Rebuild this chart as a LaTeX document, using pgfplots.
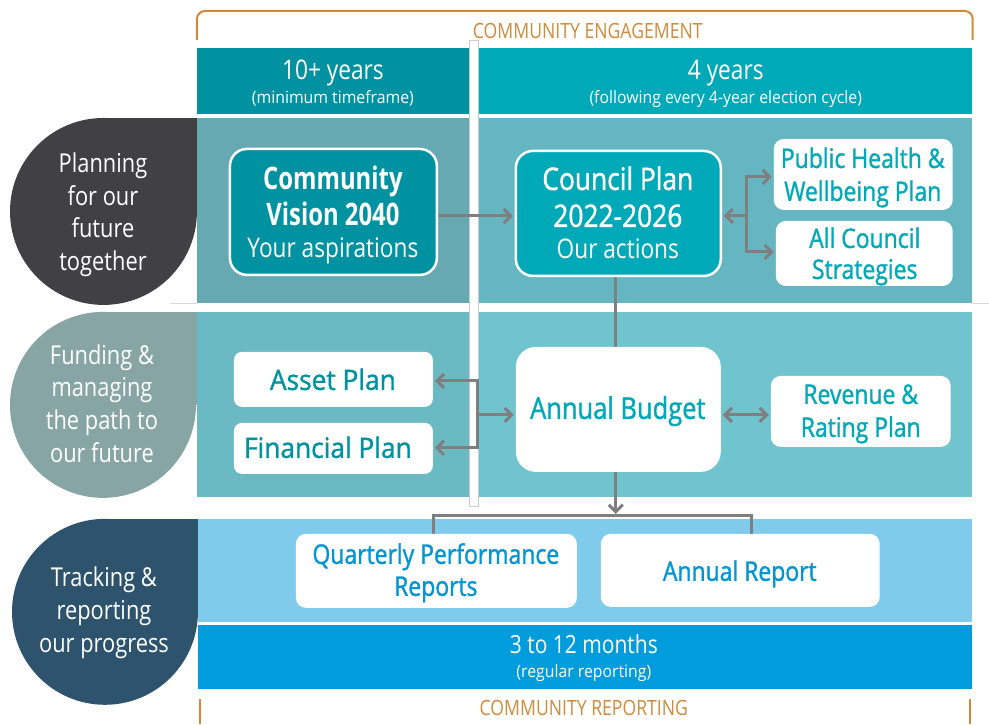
\documentclass[border=0pt]{standalone}
\usepackage{fontspec}
\setmainfont[FakeStretch=0.84]{Open Sans}
\newfontfamily\fmed[FakeStretch=0.85, FakeBold=1.2]{Open Sans}
\newfontfamily\fwide[FakeStretch=0.94, FakeBold=1.2]{Open Sans}
\newfontfamily\fpar[FakeStretch=0.93]{Open Sans}
\newfontfamily\fbold[FakeStretch=0.77]{Open Sans}
\usepackage{pgfplots}
\pgfplotsset{compat=1.18}
\usetikzlibrary{arrows.meta}
\definecolor{orng}{HTML}{CF8A3A}
\definecolor{hdL}{HTML}{0092A0}
\definecolor{hdR}{HTML}{00A9B8}
\definecolor{r1L}{HTML}{66A9B2}
\definecolor{r1R}{HTML}{65B6C1}
\definecolor{r2L}{HTML}{6BB9C3}
\definecolor{r2R}{HTML}{6FC4CE}
\definecolor{r3}{HTML}{80CBEB}
\definecolor{band}{HTML}{009CDB}
\definecolor{txtA}{HTML}{00A9B8}
\definecolor{txtB}{HTML}{00939F}
\definecolor{txtC}{HTML}{0096D6}
\definecolor{arr}{HTML}{7F7F7F}
\definecolor{dropA}{HTML}{414143}
\definecolor{dropB}{HTML}{88A5A5}
\definecolor{dropC}{HTML}{2E546D}
\newcommand{\fs}[1]{\fontsize{#1}{#1}\selectfont}
\newcommand{\T}[5]{\node[anchor=base, text=#3, font=#4, inner sep=0pt] at (axis cs:#1,#2) {#5};}
\begin{document}
\begin{tikzpicture}
\begin{axis}[scale only axis, width=989pt, height=724pt,
  xmin=0, xmax=989, ymin=0, ymax=724, y dir=reverse,
  axis lines=none, clip=false]
\draw[draw=none] (rel axis cs:0,0) rectangle (rel axis cs:1,1);
% ---------- background blocks ----------
\addplot[fill=hdL, draw=none] coordinates {(197,48) (469,48) (469,114) (197,114)} -- cycle;
\addplot[fill=hdR, draw=none] coordinates {(479,48) (972,48) (972,114) (479,114)} -- cycle;
\addplot[fill=r1L, draw=none] coordinates {(197,118) (469,118) (469,303) (197,303)} -- cycle;
\addplot[fill=r1R, draw=none] coordinates {(479,118) (972,118) (972,303) (479,303)} -- cycle;
\addplot[fill=r2L, draw=none] coordinates {(197,312) (469,312) (469,497) (197,497)} -- cycle;
\addplot[fill=r2R, draw=none] coordinates {(479,312) (972,312) (972,497) (479,497)} -- cycle;
\addplot[fill=r3, draw=none] coordinates {(198,519) (972,519) (972,622) (198,622)} -- cycle;
\addplot[fill=band, draw=none] coordinates {(198,625) (972,625) (972,689) (198,689)} -- cycle;
% white gap strip between columns
\addplot[fill=white, draw=black!20, line width=0.6pt] coordinates {(469,40) (478,40) (478,506) (469,506)} -- cycle;
\addplot[black!15, line width=0.6pt] coordinates {(972,303) (989,303)};
\addplot[black!15, line width=0.6pt] coordinates {(170,303) (197,303)};
% ---------- brackets ----------
\addplot[orng, line width=2pt, rounded corners=8pt] coordinates {(197,40) (197,11) (973,11) (973,40)};
\addplot[orng, line width=2pt] coordinates {(200,699) (200,724)};
\addplot[orng, line width=2pt] coordinates {(970,699) (970,724)};
\T{588}{39}{orng}{\fs{21}}{COMMUNITY ENGAGEMENT}
\T{584}{716}{orng}{\fs{21}}{COMMUNITY REPORTING}
% ---------- header text ----------
\T{333}{80}{white}{\fs{27}}{10+ years}
\T{333}{104}{white}{\fpar\fs{17}}{(minimum timeframe)}
\T{726}{80}{white}{\fs{27}}{4 years}
\T{726}{104}{white}{\fpar\fs{17}}{(following every 4-year election cycle)}
\T{584}{654}{white}{\fs{25}}{3 to 12 months}
\T{584}{678}{white}{\fpar\fs{17}}{(regular reporting)}
% ---------- teardrops ----------
\fill[dropA] (axis cs:103.5,211.5) circle[radius=93.5pt];
\fill[dropA] (axis cs:103.5,118) rectangle (axis cs:197,211.5);
\fill[dropB] (axis cs:103,405) circle[radius=93pt];
\fill[dropB] (axis cs:103,312) rectangle (axis cs:197,405);
\fill[dropC] (axis cs:105,612) circle[radius=93pt];
\fill[dropC] (axis cs:105,519) rectangle (axis cs:198,612);
\T{103}{173}{white}{\fs{26}}{Planning}
\T{103}{206}{white}{\fs{26}}{for our}
\T{103}{238}{white}{\fs{26}}{future}
\T{103}{271}{white}{\fs{26}}{together}
\T{102}{365}{white}{\fs{26}}{Funding \&}
\T{102}{397}{white}{\fs{26}}{managing}
\T{102}{430}{white}{\fs{26}}{the path to}
\T{102}{463}{white}{\fs{26}}{our future}
\T{104}{587}{white}{\fs{26}}{Tracking \&}
\T{104}{620}{white}{\fs{26}}{reporting}
\T{104}{653}{white}{\fs{26}}{our progress}
% ---------- arrows ----------
\addplot[arr, line width=3pt, -{Straight Barb[length=7pt,width=14pt]}] coordinates {(437,216) (513,216)};
\addplot[arr, line width=3pt, -{Straight Barb[length=7pt,width=14pt]}] coordinates {(747,216) (724,216)};
\addplot[arr, line width=3pt, -{Straight Barb[length=7pt,width=14pt]}] coordinates {(747,216) (747,177) (772,177)};
\addplot[arr, line width=3pt, -{Straight Barb[length=7pt,width=14pt]}] coordinates {(747,216) (747,252) (774,252)};
\addplot[arr, line width=3pt] coordinates {(616,276) (616,347)};
\addplot[arr, line width=3pt, -{Straight Barb[length=7pt,width=14pt]}] coordinates {(478,415) (478,381) (435,381)};
\addplot[arr, line width=3pt, -{Straight Barb[length=7pt,width=14pt]}] coordinates {(478,415) (478,448) (435,448)};
\addplot[arr, line width=3pt, -{Straight Barb[length=7pt,width=14pt]}] coordinates {(478,415) (514,415)};
\addplot[arr, line width=3pt, {Straight Barb[length=7pt,width=14pt]}-{Straight Barb[length=7pt,width=14pt]}] coordinates {(723,415) (769,415)};
\addplot[arr, line width=3pt, -{Straight Barb[length=7pt,width=14pt]}] coordinates {(616,472) (616,514)};
\addplot[arr, line width=3pt] coordinates {(434,534) (434,516) (752,516) (752,534)};
% ---------- boxes ----------
\addplot[fill=hdL, draw=white, line width=2.5pt, rounded corners=17pt] coordinates {(334,149) (437,149) (437,275) (230,275) (230,149)} -- cycle;
\addplot[fill=hdR, draw=white, line width=2.5pt, rounded corners=17pt] coordinates {(618,151) (721,151) (721,276) (516,276) (516,151)} -- cycle;
\addplot[fill=white, draw=none, rounded corners=10pt] coordinates {(863,139) (953,139) (953,210) (774,210) (774,139)} -- cycle;
\addplot[fill=white, draw=none, rounded corners=10pt] coordinates {(865,221) (953,221) (953,286) (776,286) (776,221)} -- cycle;
\addplot[fill=white, draw=none, rounded corners=8pt] coordinates {(333,352) (433,352) (433,407) (234,407) (234,352)} -- cycle;
\addplot[fill=white, draw=none, rounded corners=8pt] coordinates {(333,423) (433,423) (433,474) (234,474) (234,423)} -- cycle;
\addplot[fill=white, draw=none, rounded corners=20pt] coordinates {(618,347) (721,347) (721,472) (516,472) (516,347)} -- cycle;
\addplot[fill=white, draw=none, rounded corners=10pt] coordinates {(861,376) (951,376) (951,447) (771,447) (771,376)} -- cycle;
\addplot[fill=white, draw=none, rounded corners=10pt] coordinates {(436,534) (577,534) (577,608) (296,608) (296,534)} -- cycle;
\addplot[fill=white, draw=none, rounded corners=10pt] coordinates {(740,534) (880,534) (880,607) (601,607) (601,534)} -- cycle;
% ---------- box text ----------
\T{333}{190}{white}{\fbold\bfseries\fs{31}}{Community}
\T{333}{226}{white}{\fbold\bfseries\fs{31}}{Vision 2040}
\T{333}{258}{white}{\fs{27}}{Your aspirations}
\T{618}{190}{white}{\fmed\fs{31}}{Council Plan}
\T{618}{227}{white}{\fmed\fs{31}}{2022-2026}
\T{618}{259}{white}{\fs{27}}{Our actions}
\T{863}{168}{txtA}{\fmed\fs{27}}{Public Health \&}
\T{863}{201}{txtA}{\fmed\fs{27}}{Wellbeing Plan}
\T{865}{248}{txtA}{\fmed\fs{27}}{All Council}
\T{865}{279}{txtA}{\fmed\fs{27}}{Strategies}
\T{333}{390}{txtB}{\fwide\fs{28}}{Asset Plan}
\T{328}{458}{txtB}{\fwide\fs{28}}{Financial Plan}
\T{618}{419}{txtA}{\fmed\fs{30}}{Annual Budget}
\T{861}{404}{txtA}{\fmed\fs{27}}{Revenue \&}
\T{861}{437}{txtA}{\fmed\fs{27}}{Rating Plan}
\T{436}{564}{txtC}{\fmed\fs{27}}{Quarterly Performance}
\T{436}{596}{txtC}{\fmed\fs{27}}{Reports}
\T{740}{581}{txtC}{\fmed\fs{27}}{Annual Report}
\end{axis}
\end{tikzpicture}
\end{document}
